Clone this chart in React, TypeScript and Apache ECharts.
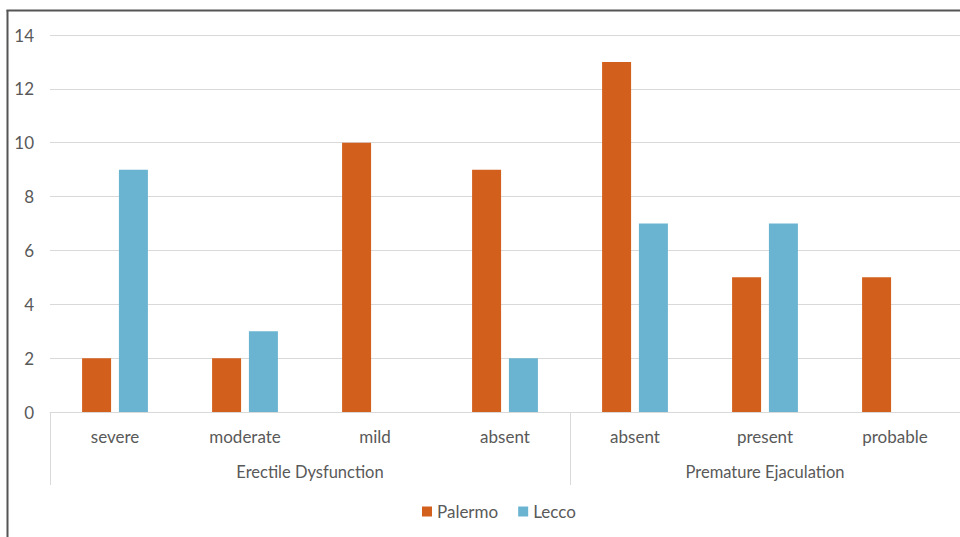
import React, { useEffect, useRef } from "react";
import * as echarts from "echarts";

const categories = ["severe", "moderate", "mild", "absent", "absent", "present", "probable"];
const groups = ["Erectile Dysfunction", "Premature Ejaculation"];
const groupCenters = [2, 5.5];
const groupBounds = [0, 4, 7];
const palermo = [2, 2, 10, 9, 13, 5, 5];
const lecco = [9, 3, 0, 2, 7, 7, 0];
const yTicks = [0, 2, 4, 6, 8, 10, 12, 14];

const FONT = "Lato";
const TXT = "#595959";

export default function App() {
  const ref = useRef<HTMLDivElement>(null);
  useEffect(() => {
    const chart = echarts.init(ref.current!, null, { renderer: "svg" });
    chart.setOption({
      animation: false,
      backgroundColor: "#ffffff",
      textStyle: { fontFamily: FONT, color: TXT },
      grid: { left: 50, right: 0, top: 35, bottom: 125, containLabel: false },
      legend: {
        left: 417,
        top: 498,
        itemWidth: 10,
        itemHeight: 10,
        itemGap: 20,
        icon: "rect",
        textStyle: { fontFamily: FONT, fontSize: 17, color: TXT },
        data: ["Palermo", "Lecco"],
      },
      xAxis: [
        {
          type: "category",
          data: categories,
          axisLine: { show: true, lineStyle: { color: "#d9d9d9", width: 1 } },
          axisTick: { show: false },
          axisLabel: { margin: 16, fontSize: 17, color: TXT, fontFamily: FONT },
        },
        {
          type: "value",
          min: 0,
          max: 7,
          position: "bottom",
          axisLine: { show: false },
          splitLine: { show: false },
          axisTick: {
            show: true,
            customValues: groupBounds,
            length: 73,
            lineStyle: { color: "#d9d9d9", width: 1 },
          },
          axisLabel: {
            show: true,
            customValues: groupCenters,
            margin: 51,
            fontSize: 16.5,
            color: TXT,
            fontFamily: FONT,
            formatter: (v: number) => {
              const i = groupCenters.indexOf(v);
              return i >= 0 ? groups[i] : "";
            },
          },
        },
      ],
      yAxis: {
        type: "value",
        min: 0,
        max: 14,
        interval: 2,
        axisLine: { show: false },
        axisTick: { show: false },
        splitLine: { lineStyle: { color: "#d9d9d9", width: 1 } },
        axisLabel: {
          margin: 16,
          fontSize: 17,
          color: TXT,
          fontFamily: FONT,
          customValues: yTicks,
        },
      },
      series: [
        {
          name: "Palermo",
          type: "bar",
          data: palermo,
          barWidth: 29,
          barGap: "27%",
          itemStyle: { color: "#D35F1C" },
        },
        {
          name: "Lecco",
          type: "bar",
          data: lecco,
          barWidth: 29,
          barGap: "27%",
          itemStyle: { color: "#6AB4D2" },
        },
      ],
      graphic: [
        {
          type: "line",
          shape: { x1: 7.5, y1: 10, x2: 7.5, y2: 537 },
          style: { stroke: "#555555", lineWidth: 2 },
        },
        {
          type: "line",
          shape: { x1: 6.5, y1: 10.5, x2: 960, y2: 10.5 },
          style: { stroke: "#555555", lineWidth: 2 },
        },
      ],
    });
    return () => chart.dispose();
  }, []);
  return (
    <div
      ref={ref}
      style={{ position: "fixed", left: 0, top: 0, width: 960, height: 537 }}
    />
  );
}
